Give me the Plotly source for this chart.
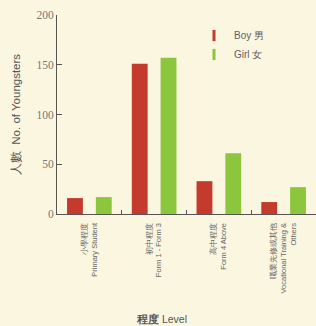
import plotly.graph_objects as go

categories = ["小學程度<br>Primary Student", "初中程度<br>Form 1 - Form 3",
              "高中程度<br>Form 4 Above", "職業先修或其他<br>Vocational Training &<br>Others"]
boy = [16, 151, 33, 12]
girl = [17, 157, 61, 27]
y_ticks = [0, 50, 100, 150, 200]

boy_color = "#c43a2d"
girl_color = "#8cc63c"
bg = "#fbf6e0"
fig = go.Figure()
fig.add_trace(go.Bar(name="Boy 男", x=categories, y=boy, marker_color=boy_color,
                     marker_line_width=0, showlegend=False))
fig.add_trace(go.Bar(name="Girl 女", x=categories, y=girl, marker_color=girl_color,
                     marker_line_width=0, showlegend=False))
# legend entries with thin vertical markers
for name, col in [("Boy 男", boy_color), ("Girl 女", girl_color)]:
    fig.add_trace(go.Scatter(name=name, x=[None], y=[None], mode="markers",
                             marker=dict(symbol="line-ns", size=8,
                                         line=dict(width=3, color=col), color=col)))

fig.update_layout(
    width=316, height=326,
    margin=dict(l=57, r=0, t=15, b=112),
    paper_bgcolor=bg, plot_bgcolor=bg,
    barmode="group", bargap=0.11, bargroupgap=0.45,
    font=dict(family="Liberation Sans, Arial", color="#666666"),
    showlegend=True,
    legend=dict(x=(194 - 57) / 259, y=(214 - 21) / 199, xanchor="left", yanchor="top",
                bgcolor="rgba(0,0,0,0)", font=dict(size=10, color="#606060"),
                itemwidth=30, tracegroupgap=6),
    xaxis=dict(type="category", showline=True, linecolor="#555555", linewidth=1,
               ticks="inside", tickson="boundaries", ticklen=4, tickcolor="#555555",
               tickangle=-90, tickfont=dict(size=7.5, color="#666666"),
               ticklabelstandoff=5, showgrid=False, automargin=False),
    yaxis=dict(range=[0, 200], tickvals=y_ticks, showline=True, linecolor="#555555",
               linewidth=1, ticks="inside", ticklen=5, tickcolor="#555555",
               tickfont=dict(family="Liberation Serif, Times New Roman", size=11.5, color="#777777"),
               showgrid=False, zeroline=False, automargin=False,
               title=dict(text="人數  No. of Youngsters", font=dict(size=11.5, color="#555555"), standoff=13)),
)
fig.layout.annotations = [dict(text="<b>程度</b> Level", x=(161 - 57) / 259, xref="paper",
                               y=-105 / 199, yref="paper", xanchor="center", yanchor="middle",
                               showarrow=False, font=dict(size=10.5, color="#555555"))]
fig.write_html("out.html", config={"displayModeBar": False},
               post_script="document.body.style.margin='0';document.body.style.background='%s';" % bg)
